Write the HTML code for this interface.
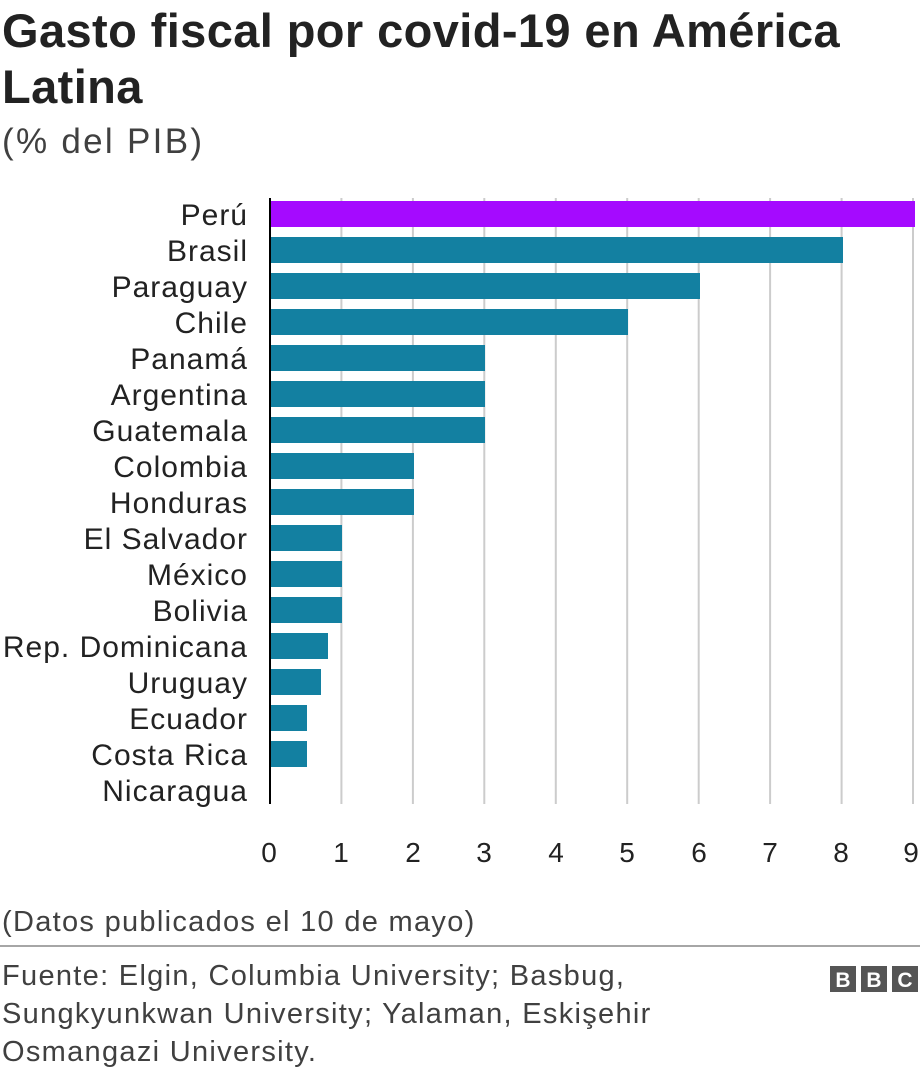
<!DOCTYPE html>
<html><head><meta charset="utf-8"><style>
body{margin:0;width:920px;height:1070px;background:#fff;font-family:"Liberation Sans",Arial,sans-serif;overflow:hidden;position:relative}
</style></head><body>
<svg width="920" height="1070" style="position:absolute;left:0;top:0" font-family="Liberation Sans, Arial, sans-serif">
<g font-size="47" font-weight="bold" fill="#222" letter-spacing="0.4">
<text x="2" y="47">Gasto fiscal por covid-19 en América</text>
<text x="2" y="103">Latina</text>
</g>
<text x="2" y="153" font-size="35" fill="#404040" letter-spacing="2.3">(% del PIB)</text>
<g stroke="#cccccc" stroke-width="2">
<line x1="341.4" y1="198" x2="341.4" y2="804"/><line x1="412.9" y1="198" x2="412.9" y2="804"/>
<line x1="484.3" y1="198" x2="484.3" y2="804"/><line x1="555.8" y1="198" x2="555.8" y2="804"/>
<line x1="627.2" y1="198" x2="627.2" y2="804"/><line x1="698.7" y1="198" x2="698.7" y2="804"/>
<line x1="770.1" y1="198" x2="770.1" y2="804"/><line x1="841.6" y1="198" x2="841.6" y2="804"/>
<line x1="913" y1="198" x2="913" y2="804"/>
</g>
<g fill="#1380A1">
<rect x="271" y="237" width="572" height="26"/>
<rect x="271" y="273" width="429" height="26"/>
<rect x="271" y="309" width="357" height="26"/>
<rect x="271" y="345" width="214" height="26"/>
<rect x="271" y="381" width="214" height="26"/>
<rect x="271" y="417" width="214" height="26"/>
<rect x="271" y="453" width="143" height="26"/>
<rect x="271" y="489" width="143" height="26"/>
<rect x="271" y="525" width="71" height="26"/>
<rect x="271" y="561" width="71" height="26"/>
<rect x="271" y="597" width="71" height="26"/>
<rect x="271" y="633" width="57" height="26"/>
<rect x="271" y="669" width="50" height="26"/>
<rect x="271" y="705" width="36" height="26"/>
<rect x="271" y="741" width="36" height="26"/>
</g>
<rect x="271" y="201" width="644" height="26" fill="#A50AFF"/>
<line x1="270" y1="198" x2="270" y2="804" stroke="#000" stroke-width="2"/>
<g font-size="30" fill="#222" text-anchor="end" letter-spacing="1">
<text x="248" y="225">Perú</text><text x="248" y="261">Brasil</text><text x="248" y="297">Paraguay</text>
<text x="248" y="333">Chile</text><text x="248" y="369">Panamá</text><text x="248" y="405">Argentina</text>
<text x="248" y="441">Guatemala</text><text x="248" y="477">Colombia</text><text x="248" y="513">Honduras</text>
<text x="248" y="549">El Salvador</text><text x="248" y="585">México</text><text x="248" y="621">Bolivia</text>
<text x="248" y="657">Rep. Dominicana</text><text x="248" y="693">Uruguay</text><text x="248" y="729">Ecuador</text>
<text x="248" y="765">Costa Rica</text><text x="248" y="801">Nicaragua</text>
</g>
<g font-size="28" fill="#222" text-anchor="middle">
<text x="269" y="862">0</text><text x="341" y="862">1</text><text x="413" y="862">2</text><text x="484" y="862">3</text>
<text x="556" y="862">4</text><text x="627" y="862">5</text><text x="699" y="862">6</text><text x="770" y="862">7</text>
<text x="841" y="862">8</text><text x="911" y="862">9</text>
</g>
<text x="2" y="931" font-size="29" fill="#404040" letter-spacing="1.3">(Datos publicados el 10 de mayo)</text>
<line x1="0" y1="946" x2="920" y2="946" stroke="#888" stroke-width="1.5"/>
<g font-size="29" fill="#404040" letter-spacing="1.3">
<text x="2" y="985">Fuente: Elgin, Columbia University; Basbug,</text>
<text x="2" y="1023">Sungkyunkwan University; Yalaman, Eskişehir</text>
<text x="2" y="1061">Osmangazi University.</text>
</g>
<g>
<rect x="830" y="966" width="26" height="26" fill="#555"/><rect x="861" y="966" width="26" height="26" fill="#555"/><rect x="892" y="966" width="26" height="26" fill="#555"/>
<g font-size="21" font-weight="bold" fill="#fff" text-anchor="middle"><text x="843" y="987">B</text><text x="874" y="987">B</text><text x="905" y="987">C</text></g>
</g>
</svg>
</body></html>
